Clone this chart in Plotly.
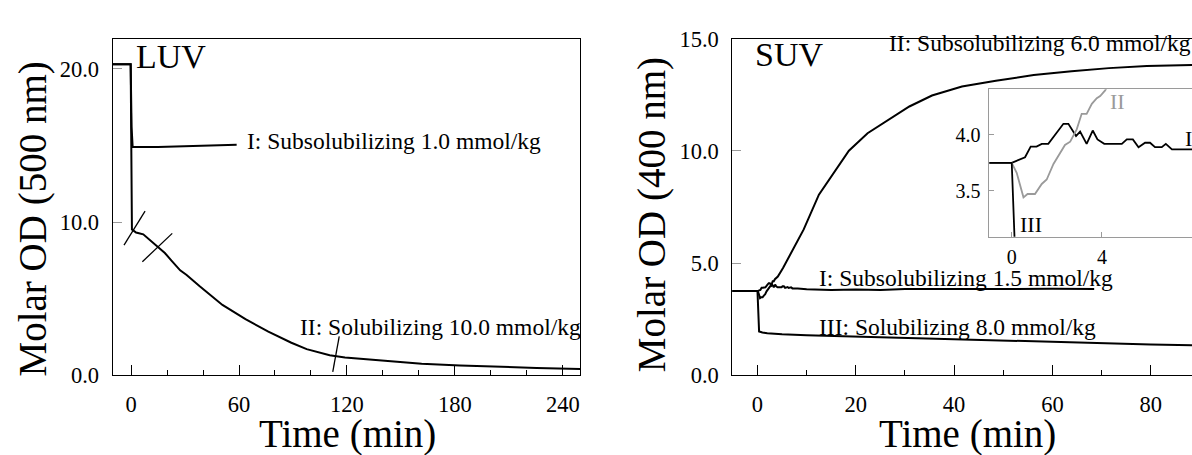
import plotly.graph_objects as go

FONT = "Liberation Serif"
W, H = 1192, 455

# ---------------- LUV, molar OD at 500 nm ----------------
luv_I_t = [-10.3, -0.2, 0.3, 0.9, 15, 30, 45, 58.7]
luv_I_od = [20.3, 20.3, 16.2, 14.9, 14.9, 14.95, 15.0, 15.05]

luv_II_t = [-10.3, -0.2, 0.5, 2.8, 6.8, 12.4, 18.8, 22.6, 27.3, 30.9, 38.0, 50.8,
            63.6, 76.3, 89.1, 97.6, 110.4, 118.9, 140.2, 161.5, 182.8, 204.2, 225.4, 249.9]
luv_II_od = [20.3, 20.3, 9.52, 9.32, 9.2, 8.6, 7.98, 7.47, 6.85, 6.54, 5.82, 4.59,
             3.66, 2.84, 2.12, 1.70, 1.30, 1.15, 0.94, 0.74, 0.64, 0.53, 0.47, 0.41]

# axis-break strokes drawn across the LUV traces (t0, od0, t1, od1)
luv_breaks = [(-3.9, 8.49, 7.8, 10.72), (6.3, 7.41, 22.9, 9.26), (112.1, 0.22, 115.7, 2.53)]

# ---------------- SUV, molar OD at 400 nm ----------------
suv_I_t = [-5.12, 0, 0.59, 0.84, 1.10, 1.33, 1.62, 1.92, 2.29, 2.51, 2.85, 3.03, 3.32,
           3.59, 3.80, 4.10, 4.88, 5.10, 5.37, 5.62, 5.91, 6.13, 6.35, 6.65, 6.83,
           7.10, 8.2, 10, 15, 20, 25, 30, 40, 50, 60, 68.5]
suv_I_od = [3.75, 3.75, 3.80, 3.895, 3.895, 3.92, 3.92, 4.0, 4.10, 4.10, 3.99, 4.03, 3.92,
            4.04, 3.96, 3.92, 3.92, 3.96, 3.96, 3.89, 3.93, 3.93, 3.89, 3.89, 3.92,
            3.87, 3.87, 3.83, 3.80, 3.82, 3.80, 3.84, 3.85, 3.84, 3.85, 3.84]

suv_II_t = [-5.12, 0, 0.22, 0.52, 0.70, 1.03, 1.33, 1.55, 1.85, 2.14, 2.36, 2.59, 2.88,
            3.10, 3.32, 3.55, 3.77, 3.92, 4.14, 5.2, 6.34, 9.41, 12.5, 15.55, 18.6,
            22.4, 26.3, 30.9, 35.5, 41.6, 48.5, 56.2, 63.9, 71.5, 79.2, 87.6, 104]
suv_II_od = [3.75, 3.75, 3.66, 3.44, 3.47, 3.47, 3.56, 3.60, 3.74, 3.83, 3.91, 3.94, 4.05,
             4.19, 4.19, 4.28, 4.33, 4.35, 4.40, 4.78, 5.24, 6.50, 8.05, 9.03, 10.01,
             10.79, 11.35, 11.98, 12.47, 12.87, 13.13, 13.38, 13.55, 13.69, 13.78, 13.84, 13.9]

suv_III_t = [-5.12, 0, 0.33, 1, 2, 5, 10, 20, 30, 40, 50, 60, 70, 80, 90, 104]
suv_III_od = [3.75, 3.75, 1.95, 1.90, 1.87, 1.82, 1.78, 1.72, 1.65, 1.58, 1.52, 1.47,
              1.42, 1.37, 1.33, 1.30]


def px_x(p):
    return p / W


def px_y(p):
    return (H - p) / H


fig = go.Figure()

line_main = dict(color="black", width=2)

fig.add_trace(go.Scatter(x=luv_I_t, y=luv_I_od, xaxis="x", yaxis="y", mode="lines", line=line_main))
fig.add_trace(go.Scatter(x=luv_II_t, y=luv_II_od, xaxis="x", yaxis="y", mode="lines", line=line_main))

fig.add_trace(go.Scatter(x=suv_I_t, y=suv_I_od, xaxis="x2", yaxis="y2", mode="lines", line=line_main))
fig.add_trace(go.Scatter(x=suv_II_t, y=suv_II_od, xaxis="x2", yaxis="y2", mode="lines", line=line_main))
fig.add_trace(go.Scatter(x=suv_III_t, y=suv_III_od, xaxis="x2", yaxis="y2", mode="lines", line=line_main))

# inset: first minutes of the SUV traces
fig.add_trace(go.Scatter(x=suv_I_t, y=suv_I_od, xaxis="x3", yaxis="y3", mode="lines",
                         line=dict(color="black", width=1.8)))
fig.add_trace(go.Scatter(x=suv_II_t, y=suv_II_od, xaxis="x3", yaxis="y3", mode="lines",
                         line=dict(color="#9a9a9a", width=1.8)))
fig.add_trace(go.Scatter(x=suv_III_t, y=suv_III_od, xaxis="x3", yaxis="y3", mode="lines",
                         line=dict(color="black", width=1.8)))

for t0, o0, t1, o1 in luv_breaks:
    fig.add_shape(type="line", xref="x", yref="y", x0=t0, y0=o0, x1=t1, y1=o1,
                  line=dict(color="black", width=1.3))

tick_font = dict(family=FONT, size=22.5, color="black")
common_x = dict(showgrid=False, zeroline=False, showline=True, linecolor="black", linewidth=1,
                ticks="inside", ticklen=10, tickcolor="black", tickwidth=1,
                tickfont=tick_font, ticklabelstandoff=9)
common_y = dict(showgrid=False, zeroline=False, showline=True, linecolor="black", linewidth=1,
                ticks="inside", ticklen=9, tickcolor="#9a9a9a", tickwidth=1,
                tickfont=tick_font, tickformat=".1f", ticklabelstandoff=8)

fig.update_layout(
    width=W, height=H,
    margin=dict(l=0, r=0, t=0, b=0),
    paper_bgcolor="white", plot_bgcolor="rgba(0,0,0,0)",
    showlegend=False,
    font=dict(family=FONT, color="black"),
    xaxis=dict(common_x, domain=[px_x(112.5), px_x(580)], range=[-10.3, 249.5],
               tickmode="array", tickvals=[0, 60, 120, 180, 240], mirror=True, anchor="y",
               minor=dict(ticks="inside", ticklen=5, tickcolor="black", dtick=20, tick0=0)),
    yaxis=dict(common_y, domain=[px_y(384.3), px_y(29)], range=[0, 21.93],
               tickmode="array", tickvals=[0, 10, 20], mirror=True, anchor="x"),
    xaxis2=dict(common_x, domain=[px_x(732.3), 1], range=[-5.12, 88.4],
                tickmode="array", tickvals=[0, 20, 40, 60, 80], mirror=True, anchor="y2",
                minor=dict(ticks="inside", ticklen=5, tickcolor="black", dtick=10, tick0=0)),
    yaxis2=dict(common_y, domain=[px_y(384.3), px_y(28.3)], range=[0, 15],
                tickmode="array", tickvals=[0, 5, 10, 15], mirror=False, anchor="x2"),
    xaxis3=dict(showgrid=False, zeroline=False, showline=True, linecolor="#9a9a9a", linewidth=1,
                ticks="inside", ticklen=5, tickcolor="#9a9a9a",
                tickfont=dict(family=FONT, size=20, color="black"), ticklabelstandoff=2,
                domain=[px_x(989.4), 1], range=[-0.99, 7.99],
                tickmode="array", tickvals=[0, 4, 8], mirror=True, anchor="y3"),
    yaxis3=dict(showgrid=False, zeroline=False, showline=True, linecolor="#9a9a9a", linewidth=1,
                ticks="inside", ticklen=5, tickcolor="#9a9a9a",
                tickfont=dict(family=FONT, size=20, color="black"), ticklabelstandoff=4,
                domain=[px_y(237.7), px_y(81.8)], range=[3.087, 4.41], tickformat=".1f",
                tickmode="array", tickvals=[3.5, 4.0], mirror=False, anchor="x3"),
)

label_font = dict(family=FONT, size=23.5, color="black")
big_font = dict(family=FONT, size=34, color="black")
title_font = dict(family=FONT, size=39, color="black")

annotations = [
    # panel tags
    dict(text="LUV", xref="x", yref="y", x=1.8, y=20.84, xanchor="left", yanchor="middle", font=big_font),
    dict(text="SUV", xref="x2", yref="y2", x=-0.85, y=14.3, xanchor="left", yanchor="middle", font=big_font),
    # curve labels, LUV
    dict(text="I: Subsolubilizing 1.0 mmol/kg", xref="x", yref="y", x=63.1, y=15.28,
         xanchor="left", yanchor="middle", font=label_font),
    dict(text="II: Solubilizing 10.0 mmol/kg", xref="x", yref="y", x=92.9, y=3.15,
         xanchor="left", yanchor="middle", font=label_font),
    # curve labels, SUV
    dict(text="II: Subsolubilizing 6.0 mmol/kg", xref="x2", yref="y2", x=26.3, y=14.82,
         xanchor="left", yanchor="middle", font=label_font),
    dict(text="I: Subsolubilizing 1.5 mmol/kg", xref="x2", yref="y2", x=12.1, y=4.35,
         xanchor="left", yanchor="middle", font=label_font),
    dict(text="III: Solubilizing 8.0 mmol/kg", xref="x2", yref="y2", x=12.1, y=2.15,
         xanchor="left", yanchor="middle", font=label_font),
    # inset labels
    dict(text="II", xref="x3", yref="y3", x=4.28, y=4.30, xanchor="left", yanchor="middle",
         font=dict(family=FONT, size=22, color="#9a9a9a")),
    dict(text="I", xref="x3", yref="y3", x=7.61, y=3.97, xanchor="left", yanchor="middle",
         font=dict(family=FONT, size=22, color="black")),
    dict(text="III", xref="x3", yref="y3", x=0.29, y=3.197, xanchor="left", yanchor="middle",
         font=dict(family=FONT, size=22, color="black")),
    # axis titles
    dict(text="Molar OD (500 nm)", xref="paper", yref="paper", x=px_x(32.5), y=px_y(219),
         xanchor="center", yanchor="middle", textangle=-90, font=title_font),
    dict(text="Molar OD (400 nm)", xref="paper", yref="paper", x=px_x(652), y=px_y(215),
         xanchor="center", yanchor="middle", textangle=-90, font=title_font),
    dict(text="Time (min)", xref="paper", yref="paper", x=px_x(347.6), y=0,
         xanchor="center", yanchor="bottom", yshift=-16, font=title_font),
    dict(text="Time (min)", xref="paper", yref="paper", x=px_x(967), y=0,
         xanchor="center", yanchor="bottom", yshift=-16, font=title_font),
]
for a in annotations:
    a.setdefault("showarrow", False)
fig.update_layout(annotations=annotations)

fig.write_html("out.html", config={"displayModeBar": False})
